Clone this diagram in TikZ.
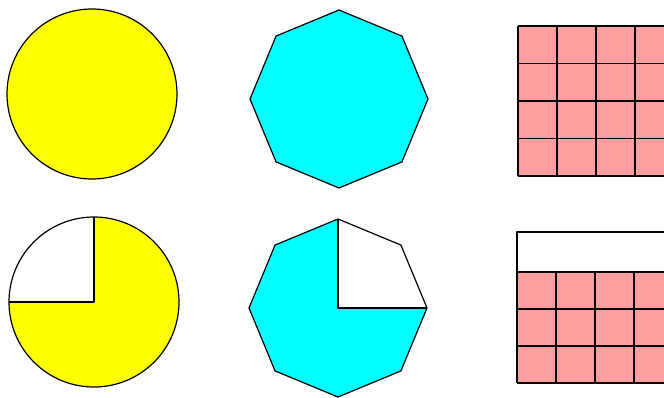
\documentclass[tikz,border=0pt]{standalone}
\usepackage{tikz}
\usetikzlibrary{calc}

\definecolor{cellpink}{RGB}{255,158,158}
\definecolor{pieyellow}{RGB}{255,255,0}
\definecolor{octcyan}{RGB}{0,255,255}

\begin{document}
\begin{tikzpicture}[
    x=1pt, y=1pt,
    outline/.style={draw=black, line width=1.2pt, line join=round},
    cellgrid/.style={draw=black, line width=1.2pt, xstep=39, ystep=37.5}
]

\useasboundingbox (0,0) rectangle (664,397);
\clip (0,0) rectangle (664,397);

% Whole circle
\filldraw[fill=pieyellow, outline] (92,303) circle (85);

% Circle with a quarter cut out
\coordinate (C) at (94,95);
\fill[pieyellow] (C) -- ++(180:85) arc (180:450:85) -- cycle;
\draw[outline] (C) circle (85);
\draw[outline] ($(C)+(180:85)$) -- (C) -- ($(C)+(90:85)$);

% Whole octagon
\begin{scope}[shift={(339,298)}]
\filldraw[fill=octcyan, outline] (90:89) -- (45:89) -- (0:89) -- (-45:89) -- (-90:89)
    -- (-135:89) -- (180:89) -- (135:89) -- cycle;
\end{scope}

% Octagon with a quarter cut out
\begin{scope}[shift={(338,89)}]
\fill[octcyan] (0,0) -- (0:89) -- (-45:89) -- (-90:89) -- (-135:89) -- (180:89)
    -- (135:89) -- (90:89) -- cycle;
\draw[outline] (90:89) -- (45:89) -- (0:89) -- (-45:89) -- (-90:89)
    -- (-135:89) -- (180:89) -- (135:89) -- cycle;
\draw[outline] (90:89) -- (0,0) -- (0:89);
\end{scope}

% Full grid
\begin{scope}[shift={(518,221)}]
\fill[cellpink] (0,0) rectangle (200,150);
\draw[cellgrid] (0,0) grid (200,150);
\end{scope}

% Grid with the top row taken away
\begin{scope}[shift={(517,14)}]
\fill[cellpink] (0,0) rectangle (200,111);
\draw[cellgrid, ystep=37] (0,0) grid (200,111);
\draw[outline] (0,111) rectangle (200,151);
\end{scope}

\end{tikzpicture}
\end{document}
